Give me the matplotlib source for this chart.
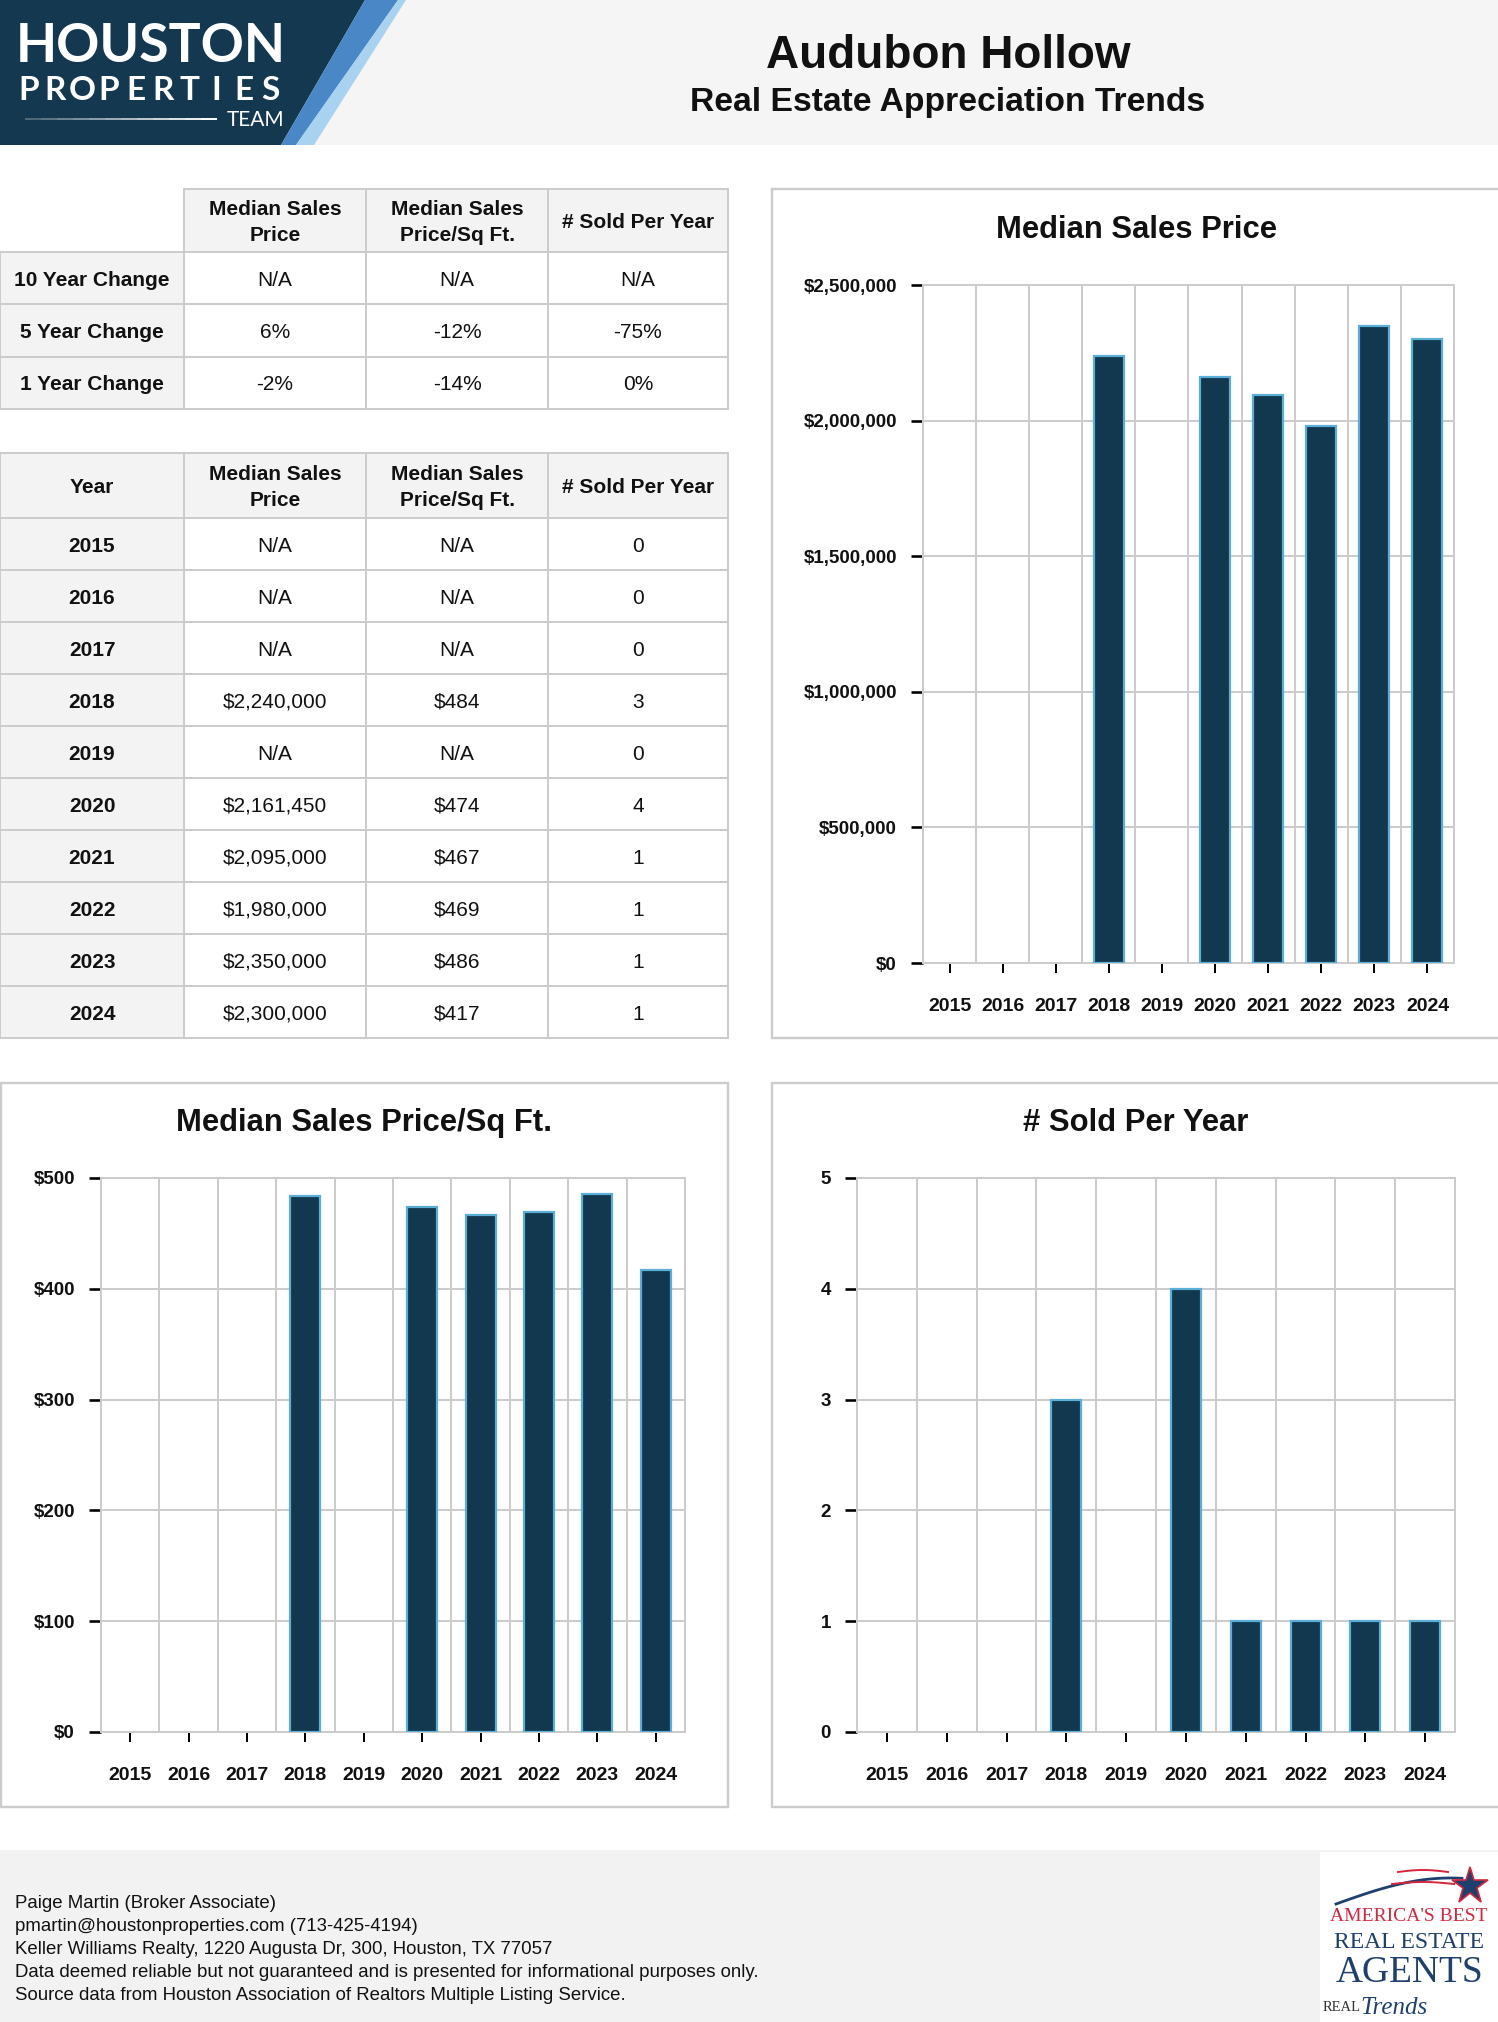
import numpy as np
import matplotlib
matplotlib.use("Agg")
import matplotlib.pyplot as plt
from matplotlib.patches import Rectangle, Polygon
from matplotlib.ticker import FuncFormatter

W, H, DPI = 1498, 2022, 100

# ---------------- data ----------------
years = ['2015', '2016', '2017', '2018', '2019', '2020', '2021', '2022', '2023', '2024']
median_price = [None, None, None, 2240000, None, 2161450, 2095000, 1980000, 2350000, 2300000]
price_per_sqft = [None, None, None, 484, None, 474, 467, 469, 486, 417]
sold_per_year = [0, 0, 0, 3, 0, 4, 1, 1, 1, 1]

change_labels = ['10 Year Change', '5 Year Change', '1 Year Change']
change_price = ['N/A', '6%', '-2%']
change_sqft = ['N/A', '-12%', '-14%']
change_sold = ['N/A', '-75%', '0%']

col_headers = ['Median Sales\nPrice', 'Median Sales\nPrice/Sq Ft.', '# Sold Per Year']

price_ticks = [0, 500000, 1000000, 1500000, 2000000, 2500000]
sqft_ticks = [0, 100, 200, 300, 400, 500]
sold_ticks = [0, 1, 2, 3, 4, 5]

# ---------------- style ----------------
FONT = 'Liberation Sans'
NAVY = '#12384f'
EDGE = '#5aafd8'
GRID = '#cccccc'
CELL_GRAY = '#f3f3f3'
TXT = '#111111'
PX = 72.0 / DPI  # points per pixel

plt.rcParams['font.family'] = [FONT, 'DejaVu Sans']

fig = plt.figure(figsize=(W / DPI, H / DPI), dpi=DPI)
bg = fig.add_axes([0, 0, 1, 1])
bg.set_xlim(0, W)
bg.set_ylim(H, 0)
bg.axis('off')


def px_axes(x0, y0, x1, y1):
    return fig.add_axes([x0 / W, 1 - y1 / H, (x1 - x0) / W, (y1 - y0) / H])


def ctext(x, y, s, size, bold=False, **kw):
    """Text whose capital letters are vertically centred on y (pixel coords)."""
    bg.text(x, y + 0.36 * size / PX, s, fontsize=size,
            fontweight='bold' if bold else 'normal', va='baseline', **kw)


# ---------------- header ----------------
bg.add_patch(Rectangle((0, 0), W, 145, fc='#f5f5f5', ec='none'))
bg.add_patch(Polygon([(0, 0), (365, 0), (281, 145), (0, 145)], closed=True, fc='#14384f', ec='none'))
bg.add_patch(Polygon([(365, 0), (398, 0), (296, 145), (281, 145)], closed=True, fc='#4a87c6', ec='none'))
bg.add_patch(Polygon([(398, 0), (406, 0), (314, 145), (296, 145)], closed=True, fc='#a9d2f0', ec='none'))

LOGO = ['Lato', 'DejaVu Sans']
ctext(16, 43, 'HOUSTON', 38.5, bold=True, color='white', family=LOGO, ha='left')
for i, ch in enumerate('PROPERTIES'):
    ctext(15 + (i + 0.5) * 26.9, 88, ch, 24, bold=True, color='white', family=LOGO, ha='center')
ctext(284, 118, 'TEAM', 15, color='white', family=LOGO, ha='right')
for k in range(12):
    xa = 25 + k * 16
    bg.plot([xa, xa + 16], [119, 119], color='white', lw=1.4,
            alpha=0.25 + 0.75 * k / 11, solid_capstyle='butt')

ctext(948, 52, 'Audubon Hollow', 33, bold=True, color=TXT, ha='center')
ctext(948, 99, 'Real Estate Appreciation Trends', 24.2, bold=True, color=TXT, ha='center')

# ---------------- tables ----------------
COLS = [0, 184, 366, 548, 728]
TSIZE = 15


def cell(x0, y0, x1, y1, fill='white', text='', bold=False):
    bg.add_patch(Rectangle((x0, y0), x1 - x0, y1 - y0, fc=fill, ec=GRID, lw=2 * PX))
    if not text:
        return
    cx, cy = (x0 + x1) / 2, (y0 + y1) / 2
    lines = text.split('\n')
    step = 26
    for k, ln in enumerate(lines):
        yy = cy + (k - (len(lines) - 1) / 2) * step
        ctext(cx, yy, ln, TSIZE, bold=bold, color=TXT, ha='center')


# table 1: changes
t1_rows = [189, 252, 304, 357, 409]
for j, hdr in enumerate(col_headers):
    cell(COLS[j + 1], t1_rows[0], COLS[j + 2], t1_rows[1], CELL_GRAY, hdr, bold=True)
for i, lab in enumerate(change_labels):
    y0, y1 = t1_rows[i + 1], t1_rows[i + 2]
    cell(COLS[0], y0, COLS[1], y1, CELL_GRAY, lab, bold=True)
    cell(COLS[1], y0, COLS[2], y1, 'white', change_price[i])
    cell(COLS[2], y0, COLS[3], y1, 'white', change_sqft[i])
    cell(COLS[3], y0, COLS[4], y1, 'white', change_sold[i])


def fmt_money(v):
    return 'N/A' if v is None else '${:,}'.format(v)


t2_top, t2_hdr = 453, 518
row_h = (1038 - t2_hdr) / len(years)
cell(COLS[0], t2_top, COLS[1], t2_hdr, CELL_GRAY, 'Year', bold=True)
for j, hdr in enumerate(col_headers):
    cell(COLS[j + 1], t2_top, COLS[j + 2], t2_hdr, CELL_GRAY, hdr, bold=True)
for i, yr in enumerate(years):
    y0 = t2_hdr + i * row_h
    y1 = y0 + row_h
    cell(COLS[0], y0, COLS[1], y1, CELL_GRAY, yr, bold=True)
    cell(COLS[1], y0, COLS[2], y1, 'white', fmt_money(median_price[i]))
    cell(COLS[2], y0, COLS[3], y1, 'white', fmt_money(price_per_sqft[i]))
    cell(COLS[3], y0, COLS[4], y1, 'white', str(sold_per_year[i]))


# ---------------- charts ----------------
def bar_chart(box, title_y, plot, title, values, ticks, label_fmt):
    bx0, by0, bx1, by1 = box
    bg.add_patch(Rectangle((bx0, by0), bx1 - bx0, by1 - by0, fc='white', ec=GRID, lw=2.4 * PX))
    ctext((bx0 + bx1) / 2, title_y, title, 22.3, bold=True, color=TXT, ha='center')
    ax = px_axes(*plot)
    n = len(years)
    cat_px = (plot[2] - plot[0]) / n
    xs = [i for i, v in enumerate(values) if v]
    hs = [values[i] for i in xs]
    ax.bar(xs, hs, width=30.0 / cat_px, color=NAVY, edgecolor=EDGE,
           linewidth=2.2 * PX, zorder=3)
    ax.set_xlim(-0.5, n - 0.5)
    ax.set_ylim(ticks[0], ticks[-1])
    ax.set_axisbelow(True)
    ax.set_xticks(range(n))
    ax.set_xticklabels(years)
    ax.set_xticks(np.arange(-0.5, n, 1.0), minor=True)
    ax.set_yticks(ticks)
    ax.yaxis.set_major_formatter(FuncFormatter(lambda v, p: label_fmt(v)))
    ax.grid(True, which='minor', axis='x', color=GRID, lw=2 * PX)
    ax.grid(True, which='major', axis='y', color=GRID, lw=2 * PX)
    for s in ax.spines.values():
        s.set_color(GRID)
        s.set_linewidth(2 * PX)
    ax.tick_params(axis='x', which='major', length=10 * PX, width=2 * PX,
                   color='black', pad=25 * PX, labelsize=14)
    ax.tick_params(axis='x', which='minor', length=0)
    ax.tick_params(axis='y', which='major', length=12 * PX, width=2.6 * PX,
                   color='black', pad=14 * PX, labelsize=13.5)
    for lab in ax.get_xticklabels() + ax.get_yticklabels():
        lab.set_fontweight('bold')
        lab.set_color(TXT)
    return ax


bar_chart((772, 189, 1500, 1038), 227, (923, 285, 1454, 963), 'Median Sales Price',
          median_price, price_ticks, lambda v: '${:,.0f}'.format(v))
bar_chart((1, 1083, 728, 1807), 1120, (101, 1178, 685, 1732), 'Median Sales Price/Sq Ft.',
          price_per_sqft, sqft_ticks, lambda v: '${:,.0f}'.format(v))
bar_chart((772, 1083, 1500, 1807), 1120, (857, 1178, 1455, 1732), '# Sold Per Year',
          sold_per_year, sold_ticks, lambda v: '{:.0f}'.format(v))

# ---------------- footer ----------------
bg.add_patch(Rectangle((0, 1850), W, H - 1850, fc='#f2f2f2', ec='none'))
footer_lines = [
    'Paige Martin (Broker Associate)',
    'pmartin@houstonproperties.com (713-425-4194)',
    'Keller Williams Realty, 1220 Augusta Dr, 300, Houston, TX 77057',
    'Data deemed reliable but not guaranteed and is presented for informational purposes only.',
    'Source data from Houston Association of Realtors Multiple Listing Service.',
]
for i, line in enumerate(footer_lines):
    ctext(15, 1901 + i * 23, line, 13.4, color=TXT, ha='left')

# right logo
bg.add_patch(Rectangle((1320, 1852), 178, 170, fc='white', ec='none'))
t = np.linspace(0, 1, 60)
sx = 1336 + 126 * t
sy = 1904 - 26 * np.sin(t * np.pi * 0.55)
bg.plot(sx, sy, color='#1f3f6e', lw=2.0)
bg.plot(1398 + 50 * t, 1872 - 2 * np.sin(t * np.pi), color='#d7263d', lw=1.4)
bg.plot(1392 + 62 * t, 1884 - 2 * np.sin(t * np.pi), color='#d7263d', lw=1.4)
bg.plot([1470], [1886], marker='*', markersize=28, mfc='#1f3f6e', mec='#d7263d', mew=1.2)
SERIF = ['Liberation Serif', 'DejaVu Serif']
ctext(1409, 1914, "AMERICA'S BEST", 14, color='#d7263d', family=SERIF, ha='center')
ctext(1409, 1939, 'REAL ESTATE', 17, color='#1f3f6e', family=SERIF, ha='center')
ctext(1409, 1968, 'AGENTS', 27, color='#1f3f6e', family=SERIF, ha='center')
ctext(1323, 2006, 'REAL', 10.5, color='#333333', family=SERIF, ha='left')
bg.text(1360, 2014, 'Trends', family=SERIF, fontsize=18, style='italic', color='#1f3f6e',
        ha='left', va='baseline')

fig.savefig('out.png', dpi=DPI)
